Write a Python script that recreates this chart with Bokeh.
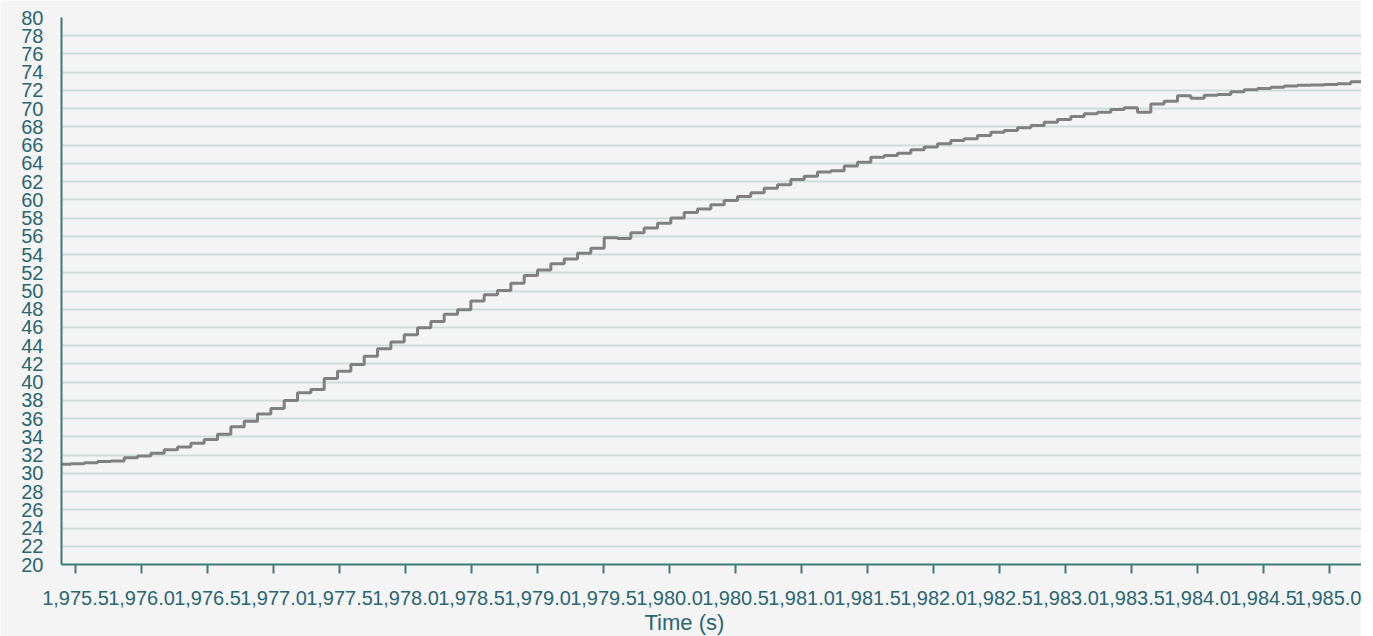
from bokeh.plotting import figure
from bokeh.models import FixedTicker, NumeralTickFormatter, Range1d, Title
from bokeh.embed import file_html
from bokeh.resources import INLINE

# ---- data ----
times = [
    1975.364, 1975.465, 1975.566, 1975.667, 1975.768, 1975.869, 1975.970, 1976.071, 1976.172, 1976.273,
    1976.374, 1976.475, 1976.576, 1976.677, 1976.778, 1976.879, 1976.980, 1977.081, 1977.182, 1977.283,
    1977.384, 1977.485, 1977.586, 1977.687, 1977.788, 1977.889, 1977.990, 1978.091, 1978.192, 1978.293,
    1978.394, 1978.495, 1978.596, 1978.697, 1978.798, 1978.899, 1979.000, 1979.101, 1979.202, 1979.303,
    1979.404, 1979.505, 1979.606, 1979.707, 1979.808, 1979.909, 1980.010, 1980.111, 1980.212, 1980.313,
    1980.414, 1980.515, 1980.616, 1980.717, 1980.818, 1980.919, 1981.020, 1981.121, 1981.222, 1981.323,
    1981.424, 1981.525, 1981.626, 1981.727, 1981.828, 1981.929, 1982.030, 1982.131, 1982.232, 1982.333,
    1982.434, 1982.535, 1982.636, 1982.737, 1982.838, 1982.939, 1983.040, 1983.141, 1983.242, 1983.343,
    1983.444, 1983.545, 1983.646, 1983.747, 1983.848, 1983.949, 1984.050, 1984.151, 1984.252, 1984.353,
    1984.454, 1984.555, 1984.656, 1984.757, 1984.858, 1984.959, 1985.060, 1985.161, 1985.262,
]
values = [
    31.0, 31.05, 31.15, 31.3, 31.35, 31.7, 31.9, 32.2, 32.6, 32.9,
    33.3, 33.7, 34.3, 35.1, 35.7, 36.5, 37.1, 38.0, 38.85, 39.2,
    40.4, 41.2, 41.94, 42.85, 43.66, 44.4, 45.2, 45.96, 46.65, 47.45,
    47.93, 48.9, 49.6, 50.05, 50.86, 51.7, 52.3, 53.0, 53.5, 54.15,
    54.7, 55.84, 55.77, 56.38, 56.9, 57.44, 58.0, 58.6, 59.0, 59.45,
    59.93, 60.37, 60.77, 61.28, 61.65, 62.23, 62.6, 63.05, 63.2, 63.7,
    64.13, 64.68, 64.86, 65.1, 65.5, 65.8, 66.15, 66.5, 66.7, 67.06,
    67.4, 67.6, 67.9, 68.15, 68.5, 68.8, 69.14, 69.43, 69.6, 69.9,
    70.09, 69.6, 70.5, 70.8, 71.43, 71.15, 71.48, 71.55, 71.85, 72.07,
    72.2, 72.35, 72.5, 72.57, 72.6, 72.66, 72.74, 72.96, 72.96,
]
x_ticks = [1975.5, 1976.0, 1976.5, 1977.0, 1977.5, 1978.0, 1978.5, 1979.0, 1979.5, 1980.0,
           1980.5, 1981.0, 1981.5, 1982.0, 1982.5, 1983.0, 1983.5, 1984.0, 1984.5, 1985.0]
y_ticks = [20, 22, 24, 26, 28, 30, 32, 34, 36, 38, 40, 42, 44, 46, 48, 50,
           52, 54, 56, 58, 60, 62, 64, 66, 68, 70, 72, 74, 76, 78, 80]
x_label = "Time (s)"

BG = "#f4f4f4"
TEAL_TEXT = "#2a6670"
AXIS = "#3c7a73"
FONT = "Liberation Sans"

p = figure(width=1361, height=636, output_backend="svg", toolbar_location=None,
           x_range=Range1d(1975.394, 1985.242), y_range=Range1d(20, 80),
           min_border_left=61, min_border_right=0, min_border_top=17, min_border_bottom=72)
p.background_fill_color = BG
p.border_fill_color = BG
p.outline_line_color = None

p.step(times, values, mode="after", line_color="#808080", line_width=3)

p.xgrid.visible = False
p.ygrid.grid_line_color = "#cddbdb"
p.ygrid.grid_line_width = 2
p.ygrid.ticker = FixedTicker(ticks=y_ticks)

xa = p.xaxis[0]
xa.ticker = FixedTicker(ticks=x_ticks)
xa.formatter = NumeralTickFormatter(format="0,0.0")
xa.axis_line_color = AXIS
xa.axis_line_width = 2
xa.major_tick_line_color = AXIS
xa.major_tick_line_width = 2
xa.major_tick_out = 9
xa.major_tick_in = 0
xa.minor_tick_line_color = None
xa.major_label_standoff = 17
xa.major_label_text_font = FONT
xa.major_label_text_font_size = "20px"
xa.major_label_text_color = TEAL_TEXT

ya = p.yaxis[0]
ya.ticker = FixedTicker(ticks=y_ticks)
ya.axis_line_color = AXIS
ya.axis_line_width = 2
ya.major_tick_line_color = None
ya.major_tick_out = 0
ya.major_tick_in = 0
ya.minor_tick_line_color = None
ya.major_label_standoff = 18
ya.major_label_text_font = FONT
ya.major_label_text_font_size = "20px"
ya.major_label_text_color = TEAL_TEXT

t = Title(text=x_label, align="left", offset=583, standoff=0,
          text_font=FONT, text_font_size="22px", text_font_style="normal",
          text_color=TEAL_TEXT)
p.add_layout(t, "below")

open("out.html", "w").write(file_html(p, INLINE))
